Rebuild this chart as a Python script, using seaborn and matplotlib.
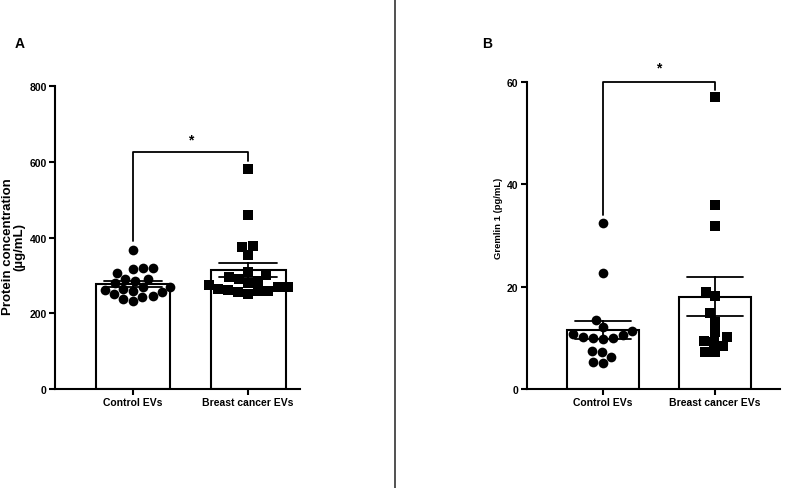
import numpy as np
import pandas as pd
import matplotlib
matplotlib.use("Agg")
import matplotlib.pyplot as plt
import seaborn as sns
from matplotlib.lines import Line2D

# --- data ---
groups = ["Control EVs", "Breast cancer EVs"]

protein_control = [368, 320, 318, 320, 305, 290, 290, 280, 285, 270,
                   268, 265, 262, 260, 255, 250, 245, 242, 238, 232]
protein_cancer = [580, 460, 378, 375, 355, 310, 300, 295, 290, 285,
                  280, 275, 270, 268, 265, 262, 260, 258, 255, 252]

gremlin_control = [32.5, 22.7, 13.4, 10.8, 9.9, 9.9, 10.1, 10.5,
                   11.4, 12.1, 9.8, 7.5, 7.3, 6.3, 5.2, 5.1]
gremlin_cancer = [57.0, 36.0, 31.8, 18.2, 19.0, 14.8, 13.1,
                  9.2, 7.2, 9.4, 10.1, 7.3, 11.1, 8.3]

# bracket: (top, left leg end, right leg end, star y)
bracket_a = (626, 390, 602, 640)
bracket_b = (60, 34, 58.4, 61.5)

sns.set_theme(style="ticks")
plt.rcParams['font.family'] = ['Liberation Sans', 'DejaVu Sans']
plt.rcParams['font.weight'] = 'bold'
# plain black text like the original figure
for key in ['text.color', 'axes.labelcolor', 'xtick.color', 'ytick.color']:
    plt.rcParams[key] = 'black'


def make_df(ctrl, canc):
    return pd.DataFrame({
        "group": [groups[0]] * len(ctrl) + [groups[1]] * len(canc),
        "value": list(ctrl) + list(canc),
    })


def draw_panel(ax, df, ylim, yticks, ylabel, label_size, bracket, xlim):
    sns.barplot(data=df, x="group", y="value", order=groups, ax=ax,
                errorbar="se", capsize=0.5, width=0.65,
                color="white", edgecolor="black", linewidth=1.5,
                err_kws={"color": "black", "linewidth": 1.3}, zorder=1)
    for g, m in zip(groups, ["o", "s"]):
        sns.swarmplot(data=df[df.group == g], x="group", y="value",
                      order=groups, ax=ax, marker=m, color="black",
                      size=7, linewidth=0, zorder=3, warn_thresh=1)
    top, l_end, r_end, star_y = bracket
    ax.plot([0, 0, 1, 1], [l_end, top, top, r_end], color="black",
            linewidth=1.3, clip_on=False, zorder=4)
    ax.text(0.5, star_y, "*", ha="center", va="bottom", fontsize=10,
            fontweight="bold")
    ax.set_ylim(*ylim)
    ax.set_xlim(*xlim)
    ax.set_yticks(yticks)
    ax.set_xlabel("")
    ax.set_ylabel(ylabel, fontsize=label_size, fontweight="bold",
                  linespacing=0.9)
    sns.despine(ax=ax)
    for s in ["left", "bottom"]:
        ax.spines[s].set_linewidth(1.5)
        ax.spines[s].set_color("black")
    ax.tick_params(axis="both", width=1.5, length=4, color="black",
                   labelsize=7.5, pad=2)
    for t in ax.get_xticklabels() + ax.get_yticklabels():
        t.set_fontweight("bold")


fig = plt.figure(figsize=(7.91, 4.89), dpi=100)
ax_a = fig.add_axes([0.0695, 0.2025, 0.31, 0.6195])
ax_b = fig.add_axes([0.666, 0.2025, 0.32, 0.628])

draw_panel(ax_a, make_df(protein_control, protein_cancer), (0, 800),
           [0, 200, 400, 600, 800], "Protein concentration\n(µg/mL)", 9.5,
           bracket_a, (-0.678, 1.452))
draw_panel(ax_b, make_df(gremlin_control, gremlin_cancer), (0, 60),
           [0, 20, 40, 60], "Gremlin 1 (pg/mL)", 6.8, bracket_b,
           (-0.68, 1.58))

ax_a.yaxis.set_label_coords(-0.12, 0.472)
ax_b.yaxis.set_label_coords(-0.095, 0.56)

fig.text(20 / 791, 1 - 44 / 489, "A", ha="center", va="center",
         fontsize=10, fontweight="bold")
fig.text(487 / 791, 1 - 44 / 489, "B", ha="center", va="center",
         fontsize=10, fontweight="bold")

fig.add_artist(Line2D([395 / 791, 395 / 791], [0, 1], color="#333333",
                      linewidth=1.2))

fig.savefig("out.png", dpi=100, facecolor="white")
